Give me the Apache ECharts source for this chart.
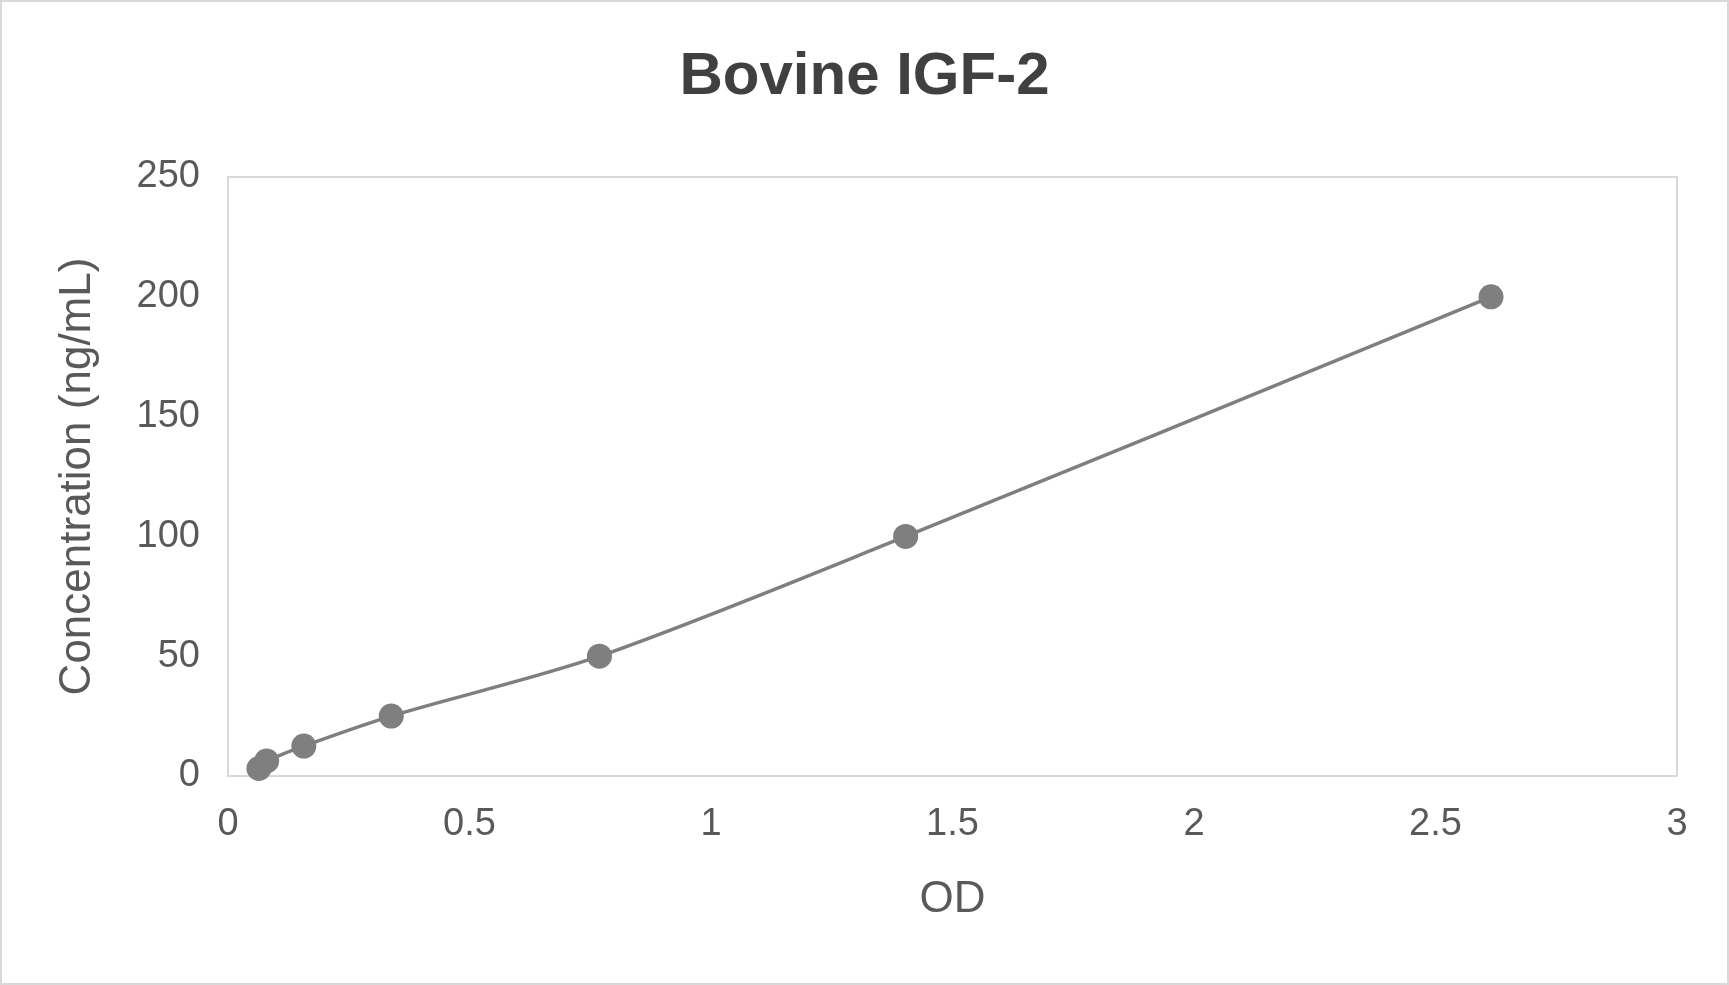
<!DOCTYPE html>
<html><head><meta charset="utf-8">
<script src="https://cdn.jsdelivr.net/npm/echarts@6/dist/echarts.min.js"></script>
<style>html,body{margin:0;padding:0;background:#fff}#c{width:1729px;height:985px;box-sizing:border-box;border:2px solid #d9d9d9}</style>
</head><body><div id="c"></div>
<script>
var od = [0.064, 0.08, 0.157, 0.338, 0.769, 1.403, 2.615];
var conc = [3.125, 6.25, 12.5, 25, 50, 100, 200];
var pts = od.map(function (x, i) { return [x, conc[i]]; });

var chart = echarts.init(document.getElementById('c'));
chart.setOption({
  animation: false,
  title: {
    text: 'Bovine IGF-2', left: 'center', top: 40,
    textStyle: { fontFamily: 'Arial, Liberation Sans', fontSize: 60, fontWeight: 'bold', color: '#404040' }
  },
  grid: { left: 226, right: 50, top: 175, bottom: 207, show: true, borderColor: '#d9d9d9', borderWidth: 2 },
  xAxis: {
    type: 'value', min: 0, max: 3, interval: 0.5,
    name: 'OD', nameLocation: 'middle', nameGap: 102,
    nameTextStyle: { fontFamily: 'Arial, Liberation Sans', fontSize: 44, color: '#595959' },
    axisLine: { show: false }, axisTick: { show: false }, splitLine: { show: false },
    axisLabel: { fontFamily: 'Arial, Liberation Sans', fontSize: 38, color: '#595959', margin: 30 }
  },
  yAxis: {
    type: 'value', min: 0, max: 250, interval: 50,
    name: 'Concentration (ng/mL)', nameLocation: 'middle', nameGap: 128,
    nameTextStyle: { fontFamily: 'Arial, Liberation Sans', fontSize: 44, color: '#595959' },
    axisLine: { show: false }, axisTick: { show: false }, splitLine: { show: false },
    axisLabel: { fontFamily: 'Arial, Liberation Sans', fontSize: 38, color: '#595959', margin: 28 }
  },
  series: [{
    type: 'line', data: pts, smooth: 0.3,
    symbol: 'circle', symbolSize: 25,
    itemStyle: { color: '#7f7f7f' },
    lineStyle: { color: '#7f7f7f', width: 3.5 }
  }]
});
</script></body></html>
